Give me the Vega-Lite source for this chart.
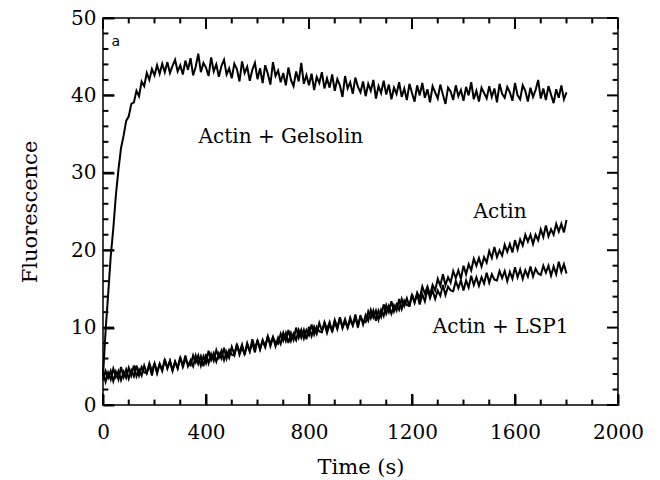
{
  "$schema": "https://vega.github.io/schema/vega-lite/v6.json",
  "width": 515,
  "height": 387,
  "autosize": "none",
  "padding": {"left": 103, "top": 18, "right": 42, "bottom": 75},
  "config": {"view": {"stroke": "black", "strokeWidth": 1.5}},
  "datasets": {
    "curves": [
      {"t":0,"g":3.7,"a":4.3,"l":3.2},{"t":10,"g":9.6,"a":3.0,"l":4.4},{"t":20,"g":14.3,"a":4.2,"l":3.5},{"t":30,"g":19.2,"a":3.3,"l":4.4},{"t":40,"g":22.8,"a":4.7,"l":3.1},
      {"t":50,"g":27.1,"a":3.6,"l":4.3},{"t":60,"g":30.4,"a":4.4,"l":3.3},{"t":70,"g":33.2,"a":3.2,"l":4.9},{"t":80,"g":34.8,"a":4.3,"l":3.6},{"t":90,"g":36.7,"a":3.5,"l":4.6},
      {"t":100,"g":37.3,"a":4.8,"l":3.4},{"t":110,"g":38.9,"a":3.8,"l":4.5},{"t":120,"g":39.1,"a":5.1,"l":3.7},{"t":130,"g":40.6,"a":3.7,"l":5.1},{"t":140,"g":39.9,"a":4.6,"l":3.8},
      {"t":150,"g":41.8,"a":3.8,"l":4.9},{"t":160,"g":41.2,"a":5.1,"l":4.2},{"t":170,"g":42.9,"a":4.1,"l":4.1},{"t":180,"g":42.0,"a":5.1,"l":5.4},{"t":190,"g":43.4,"a":3.8,"l":4.4},
      {"t":200,"g":42.6,"a":5.4,"l":5.4},{"t":210,"g":43.9,"a":4.2,"l":4.1},{"t":220,"g":42.8,"a":5.3,"l":5.3},{"t":230,"g":44.1,"a":4.5,"l":4.4},{"t":240,"g":43.0,"a":5.8,"l":5.9},
      {"t":250,"g":44.3,"a":4.8,"l":4.7},{"t":260,"g":42.9,"a":5.7,"l":5.7},{"t":270,"g":43.8,"a":4.4,"l":4.5},{"t":280,"g":44.6,"a":5.6,"l":5.6},{"t":290,"g":43.1,"a":4.7,"l":4.8},
      {"t":300,"g":43.9,"a":6.1,"l":6.2},{"t":310,"g":42.7,"a":5.1,"l":4.9},{"t":320,"g":44.5,"a":6.4,"l":5.9},{"t":330,"g":43.3,"a":5.0,"l":5.3},{"t":340,"g":44.8,"a":5.8,"l":5.1},
      {"t":350,"g":42.6,"a":5.0,"l":6.4},{"t":360,"g":43.7,"a":6.4,"l":5.5},{"t":370,"g":45.4,"a":5.3,"l":6.4},{"t":380,"g":43.0,"a":6.3,"l":5.1},{"t":390,"g":44.2,"a":5.0,"l":6.3},
      {"t":400,"g":43.6,"a":6.6,"l":5.4},{"t":410,"g":42.5,"a":5.4,"l":7.0},{"t":420,"g":44.9,"a":6.6,"l":5.8},{"t":430,"g":43.1,"a":5.7,"l":6.7},{"t":440,"g":44.0,"a":7.1,"l":5.6},
      {"t":450,"g":42.4,"a":6.1,"l":6.7},{"t":460,"g":43.8,"a":7.0,"l":6.0},{"t":470,"g":44.6,"a":5.8,"l":7.4},{"t":480,"g":42.7,"a":6.9,"l":6.0},{"t":490,"g":43.5,"a":6.1,"l":7.1},
      {"t":500,"g":42.2,"a":7.5,"l":6.5},{"t":510,"g":44.1,"a":6.5,"l":6.4},{"t":520,"g":43.4,"a":7.9,"l":7.7},{"t":530,"g":41.8,"a":6.5,"l":6.8},{"t":540,"g":44.4,"a":7.4,"l":7.8},
      {"t":550,"g":42.9,"a":6.6,"l":6.5},{"t":560,"g":43.7,"a":8.0,"l":7.8},{"t":570,"g":41.9,"a":7.0,"l":6.9},{"t":580,"g":43.3,"a":8.0,"l":8.5},{"t":590,"g":44.2,"a":6.8,"l":7.3},
      {"t":600,"g":42.1,"a":8.4,"l":8.3},{"t":610,"g":43.5,"a":7.2,"l":7.2},{"t":620,"g":41.6,"a":8.4,"l":8.3},{"t":630,"g":43.9,"a":7.5,"l":7.5},{"t":640,"g":42.8,"a":8.9,"l":8.9},
      {"t":650,"g":41.4,"a":7.9,"l":7.6},{"t":660,"g":44.3,"a":8.8,"l":8.7},{"t":670,"g":42.5,"a":7.6,"l":8.1},{"t":680,"g":43.2,"a":8.7,"l":7.9},{"t":690,"g":41.7,"a":7.9,"l":9.2},
      {"t":700,"g":42.9,"a":9.3,"l":8.3},{"t":710,"g":41.3,"a":8.3,"l":9.3},{"t":720,"g":43.6,"a":9.7,"l":8.0},{"t":730,"g":42.0,"a":8.3,"l":9.3},{"t":740,"g":41.2,"a":9.2,"l":8.4},
      {"t":750,"g":43.1,"a":8.4,"l":10.0},{"t":760,"g":41.8,"a":9.7,"l":8.7},{"t":770,"g":44.2,"a":8.7,"l":9.7},{"t":780,"g":41.5,"a":9.7,"l":8.6},{"t":790,"g":42.6,"a":8.5,"l":9.7},
      {"t":800,"g":41.3,"a":10.1,"l":9.0},{"t":810,"g":42.8,"a":8.9,"l":10.4},{"t":820,"g":40.7,"a":10.1,"l":9.1},{"t":830,"g":42.4,"a":9.2,"l":10.1},{"t":840,"g":41.6,"a":10.6,"l":9.5},
      {"t":850,"g":43.0,"a":9.6,"l":9.4},{"t":860,"g":40.9,"a":10.5,"l":10.7},{"t":870,"g":42.2,"a":9.3,"l":9.8},{"t":880,"g":41.0,"a":10.4,"l":10.7},{"t":890,"g":42.7,"a":9.6,"l":9.4},
      {"t":900,"g":40.6,"a":11.0,"l":10.7},{"t":910,"g":42.1,"a":10.0,"l":9.8},{"t":920,"g":41.3,"a":11.3,"l":11.3},{"t":930,"g":39.8,"a":9.9,"l":10.1},{"t":940,"g":42.5,"a":10.8,"l":11.1},
      {"t":950,"g":40.9,"a":10.0,"l":10.0},{"t":960,"g":41.7,"a":11.3,"l":11.0},{"t":970,"g":40.2,"a":10.3,"l":10.3},{"t":980,"g":42.3,"a":11.3,"l":11.7},{"t":990,"g":41.1,"a":10.0,"l":10.3},
      {"t":1000,"g":40.4,"a":11.6,"l":11.4},{"t":1010,"g":41.8,"a":10.4,"l":10.8},{"t":1020,"g":39.9,"a":11.6,"l":10.7},{"t":1030,"g":41.5,"a":10.9,"l":12.1},{"t":1040,"g":40.6,"a":12.3,"l":11.2},
      {"t":1050,"g":42.0,"a":11.3,"l":12.2},{"t":1060,"g":39.6,"a":12.2,"l":10.9},{"t":1070,"g":41.2,"a":11.0,"l":12.2},{"t":1080,"g":40.3,"a":12.3,"l":11.4},{"t":1090,"g":41.9,"a":11.5,"l":13.0},
      {"t":1100,"g":40.1,"a":12.9,"l":11.8},{"t":1110,"g":41.4,"a":12.0,"l":12.8},{"t":1120,"g":39.5,"a":13.4,"l":11.8},{"t":1130,"g":41.0,"a":12.1,"l":12.9},{"t":1140,"g":40.2,"a":13.0,"l":12.2},
      {"t":1150,"g":41.7,"a":12.3,"l":13.7},{"t":1160,"g":39.8,"a":13.7,"l":12.4},{"t":1170,"g":40.9,"a":12.8,"l":13.5},{"t":1180,"g":39.4,"a":13.8,"l":12.9},{"t":1190,"g":41.5,"a":12.7,"l":12.9},
      {"t":1200,"g":40.3,"a":14.3,"l":14.2},{"t":1210,"g":39.2,"a":13.2,"l":13.3},{"t":1220,"g":41.3,"a":14.5,"l":14.3},{"t":1230,"g":40.0,"a":13.8,"l":13.0},{"t":1240,"g":41.6,"a":15.3,"l":14.3},
      {"t":1250,"g":39.7,"a":14.4,"l":13.4},{"t":1260,"g":40.8,"a":15.3,"l":15.0},{"t":1270,"g":39.1,"a":14.2,"l":13.8},{"t":1280,"g":41.2,"a":15.5,"l":14.8},{"t":1290,"g":40.4,"a":14.8,"l":13.7},
      {"t":1300,"g":39.6,"a":16.3,"l":14.8},{"t":1310,"g":41.4,"a":15.4,"l":14.1},{"t":1320,"g":40.1,"a":16.9,"l":15.5},{"t":1330,"g":38.9,"a":15.5,"l":14.2},{"t":1340,"g":41.0,"a":16.5,"l":15.3},
      {"t":1350,"g":40.5,"a":15.8,"l":14.8},{"t":1360,"g":39.4,"a":17.3,"l":14.7},{"t":1370,"g":41.3,"a":16.4,"l":16.0},{"t":1380,"g":39.9,"a":17.4,"l":15.1},{"t":1390,"g":40.7,"a":16.3,"l":16.1},
      {"t":1400,"g":39.3,"a":18.0,"l":14.8},{"t":1410,"g":41.1,"a":16.9,"l":16.1},{"t":1420,"g":40.0,"a":18.2,"l":15.2},{"t":1430,"g":41.7,"a":17.4,"l":16.7},{"t":1440,"g":39.5,"a":18.9,"l":15.5},
      {"t":1450,"g":40.6,"a":18.0,"l":16.5},{"t":1460,"g":39.2,"a":19.0,"l":15.4},{"t":1470,"g":41.0,"a":17.9,"l":16.5},{"t":1480,"g":40.3,"a":19.1,"l":15.7},{"t":1490,"g":39.6,"a":18.4,"l":17.1},
      {"t":1500,"g":41.2,"a":19.9,"l":15.8},{"t":1510,"g":39.8,"a":19.0,"l":16.9},{"t":1520,"g":40.9,"a":20.4,"l":16.2},{"t":1530,"g":39.1,"a":19.1,"l":16.1},{"t":1540,"g":41.5,"a":20.0,"l":17.3},
      {"t":1550,"g":40.2,"a":19.3,"l":16.4},{"t":1560,"g":39.7,"a":20.7,"l":17.3},{"t":1570,"g":41.1,"a":19.8,"l":16.0},{"t":1580,"g":40.4,"a":20.8,"l":17.2},{"t":1590,"g":39.3,"a":19.7,"l":16.3},
      {"t":1600,"g":41.6,"a":21.3,"l":17.8},{"t":1610,"g":40.0,"a":20.1,"l":16.5},{"t":1620,"g":39.5,"a":21.4,"l":17.5},{"t":1630,"g":41.3,"a":20.6,"l":16.3},{"t":1640,"g":40.6,"a":22.0,"l":17.4},
      {"t":1650,"g":39.2,"a":21.1,"l":16.6},{"t":1660,"g":41.0,"a":22.0,"l":17.9},{"t":1670,"g":39.8,"a":20.8,"l":16.6},{"t":1680,"g":40.7,"a":22.0,"l":17.6},{"t":1690,"g":42.0,"a":21.3,"l":17.0},
      {"t":1700,"g":39.6,"a":22.7,"l":16.8},{"t":1710,"g":40.9,"a":21.7,"l":18.0},{"t":1720,"g":39.4,"a":23.2,"l":17.1},{"t":1730,"g":41.2,"a":21.8,"l":18.0},{"t":1740,"g":40.1,"a":22.7,"l":16.7},
      {"t":1750,"g":39.0,"a":22.0,"l":17.9},{"t":1760,"g":40.8,"a":23.4,"l":16.9},{"t":1770,"g":39.7,"a":22.4,"l":18.5},{"t":1780,"g":41.3,"a":23.4,"l":17.2},{"t":1790,"g":39.5,"a":22.3,"l":18.2},
      {"t":1800,"g":40.4,"a":23.9,"l":17.0}
    ],
    "notes": [
      {"k":"g","t":691,"v":33.9,"label":"Actin + Gelsolin"},
      {"k":"a","t":1542,"v":24.2,"label":"Actin"},
      {"k":"l","t":1544,"v":9.3,"label":"Actin + LSP1"},
      {"k":"p","t":50,"v":46.4,"label":"a"}
    ],
    "xt": [
      {"v":0,"m":1},{"v":100,"m":0},{"v":200,"m":0},{"v":300,"m":0},{"v":400,"m":1},{"v":500,"m":0},{"v":600,"m":0},{"v":700,"m":0},{"v":800,"m":1},{"v":900,"m":0},{"v":1000,"m":0},
      {"v":1100,"m":0},{"v":1200,"m":1},{"v":1300,"m":0},{"v":1400,"m":0},{"v":1500,"m":0},{"v":1600,"m":1},{"v":1700,"m":0},{"v":1800,"m":0},{"v":1900,"m":0},{"v":2000,"m":1}
    ],
    "yt": [
      {"v":0,"m":1},{"v":2,"m":0},{"v":4,"m":0},{"v":6,"m":0},{"v":8,"m":0},{"v":10,"m":1},{"v":12,"m":0},{"v":14,"m":0},{"v":16,"m":0},{"v":18,"m":0},{"v":20,"m":1},
      {"v":22,"m":0},{"v":24,"m":0},{"v":26,"m":0},{"v":28,"m":0},{"v":30,"m":1},{"v":32,"m":0},{"v":34,"m":0},{"v":36,"m":0},{"v":38,"m":0},{"v":40,"m":1},
      {"v":42,"m":0},{"v":44,"m":0},{"v":46,"m":0},{"v":48,"m":0},{"v":50,"m":1}
    ]
  },
  "layer": [
    {
      "data": {"name": "curves"},
      "transform": [{"fold": ["g", "a", "l"], "as": ["series", "v"]}],
      "mark": {"type": "line", "color": "black", "strokeWidth": 2},
      "encoding": {
        "x": {"field": "t", "type": "quantitative", "scale": {"domain": [0, 2000], "nice": false},
              "axis": {"orient": "bottom", "values": [0, 400, 800, 1200, 1600, 2000], "format": "d", "offset": -11, "ticks": true, "tickSize": 11, "tickColor": "black", "tickWidth": 2, "domain": false, "grid": false,
                       "labelPadding": 17, "labelFlush": false, "labelOverlap": false, "labelFont": "DejaVu Serif", "labelFontSize": 20, "labelColor": "black",
                       "title": "Time (s)", "titlePadding": 14, "titleFont": "DejaVu Serif", "titleFontSize": 21, "titleFontWeight": "normal", "titleColor": "black"}},
        "y": {"field": "v", "type": "quantitative", "scale": {"domain": [0, 50], "nice": false},
              "axis": {"orient": "left", "values": [0, 10, 20, 30, 40, 50], "offset": -11, "ticks": true, "tickSize": 11, "tickColor": "black", "tickWidth": 2, "domain": false, "grid": false,
                       "labelPadding": 7, "labelBaseline": "middle", "labelFlush": false, "labelOverlap": false, "labelFont": "DejaVu Serif", "labelFontSize": 20, "labelColor": "black",
                       "title": "Fluorescence", "titlePadding": 30, "titleFont": "DejaVu Serif", "titleFontSize": 21, "titleFontWeight": "normal", "titleColor": "black"}},
        "detail": {"field": "series"}
      }
    },
    {
      "data": {"name": "xt"}, "transform": [{"filter": "datum.m == 1"}],
      "mark": {"type": "rect", "color": "black", "width": 2},
      "encoding": {
        "x": {"field": "v", "type": "quantitative", "scale": {"domain": [0, 2000], "nice": false}, "axis": null},
        "y": {"datum": 0, "type": "quantitative", "scale": {"domain": [0, 50], "nice": false}, "axis": null},
        "y2": {"datum": 1.42}
      }
    },
    {
      "data": {"name": "xt"}, "transform": [{"filter": "datum.m == 0"}],
      "mark": {"type": "rect", "color": "black", "width": 2},
      "encoding": {
        "x": {"field": "v", "type": "quantitative", "scale": {"domain": [0, 2000], "nice": false}, "axis": null},
        "y": {"datum": 0, "type": "quantitative", "scale": {"domain": [0, 50], "nice": false}, "axis": null},
        "y2": {"datum": 0.7}
      }
    },
    {
      "data": {"name": "xt"}, "transform": [{"filter": "datum.m == 1"}],
      "mark": {"type": "rect", "color": "black", "width": 2},
      "encoding": {
        "x": {"field": "v", "type": "quantitative", "scale": {"domain": [0, 2000], "nice": false}, "axis": null},
        "y": {"datum": 48.58, "type": "quantitative", "scale": {"domain": [0, 50], "nice": false}, "axis": null},
        "y2": {"datum": 50}
      }
    },
    {
      "data": {"name": "xt"}, "transform": [{"filter": "datum.m == 0"}],
      "mark": {"type": "rect", "color": "black", "width": 2},
      "encoding": {
        "x": {"field": "v", "type": "quantitative", "scale": {"domain": [0, 2000], "nice": false}, "axis": null},
        "y": {"datum": 49.3, "type": "quantitative", "scale": {"domain": [0, 50], "nice": false}, "axis": null},
        "y2": {"datum": 50}
      }
    },
    {
      "data": {"name": "yt"}, "transform": [{"filter": "datum.m == 1"}],
      "mark": {"type": "rect", "color": "black", "height": 2},
      "encoding": {
        "y": {"field": "v", "type": "quantitative", "scale": {"domain": [0, 50], "nice": false}, "axis": null},
        "x": {"datum": 0, "type": "quantitative", "scale": {"domain": [0, 2000], "nice": false}, "axis": null},
        "x2": {"datum": 42.7}
      }
    },
    {
      "data": {"name": "yt"}, "transform": [{"filter": "datum.m == 0"}],
      "mark": {"type": "rect", "color": "black", "height": 2},
      "encoding": {
        "y": {"field": "v", "type": "quantitative", "scale": {"domain": [0, 50], "nice": false}, "axis": null},
        "x": {"datum": 0, "type": "quantitative", "scale": {"domain": [0, 2000], "nice": false}, "axis": null},
        "x2": {"datum": 21}
      }
    },
    {
      "data": {"name": "yt"}, "transform": [{"filter": "datum.m == 1"}],
      "mark": {"type": "rect", "color": "black", "height": 2},
      "encoding": {
        "y": {"field": "v", "type": "quantitative", "scale": {"domain": [0, 50], "nice": false}, "axis": null},
        "x": {"datum": 1957.3, "type": "quantitative", "scale": {"domain": [0, 2000], "nice": false}, "axis": null},
        "x2": {"datum": 2000}
      }
    },
    {
      "data": {"name": "yt"}, "transform": [{"filter": "datum.m == 0"}],
      "mark": {"type": "rect", "color": "black", "height": 2},
      "encoding": {
        "y": {"field": "v", "type": "quantitative", "scale": {"domain": [0, 50], "nice": false}, "axis": null},
        "x": {"datum": 1979, "type": "quantitative", "scale": {"domain": [0, 2000], "nice": false}, "axis": null},
        "x2": {"datum": 2000}
      }
    },
    {
      "data": {"name": "notes"},
      "transform": [{"filter": "datum.k != 'p'"}],
      "mark": {"type": "text", "font": "DejaVu Serif", "fontSize": 20, "color": "black", "align": "center", "baseline": "alphabetic"},
      "encoding": {
        "x": {"field": "t", "type": "quantitative", "scale": {"domain": [0, 2000], "nice": false}, "axis": null},
        "y": {"field": "v", "type": "quantitative", "scale": {"domain": [0, 50], "nice": false}, "axis": null},
        "text": {"field": "label"}
      }
    },
    {
      "data": {"name": "notes"},
      "transform": [{"filter": "datum.k == 'p'"}],
      "mark": {"type": "text", "font": "DejaVu Sans", "fontSize": 14, "color": "black", "align": "center", "baseline": "alphabetic"},
      "encoding": {
        "x": {"field": "t", "type": "quantitative", "scale": {"domain": [0, 2000], "nice": false}, "axis": null},
        "y": {"field": "v", "type": "quantitative", "scale": {"domain": [0, 50], "nice": false}, "axis": null},
        "text": {"field": "label"}
      }
    }
  ],
  "resolve": {"axis": {"x": "independent", "y": "independent"}}
}
